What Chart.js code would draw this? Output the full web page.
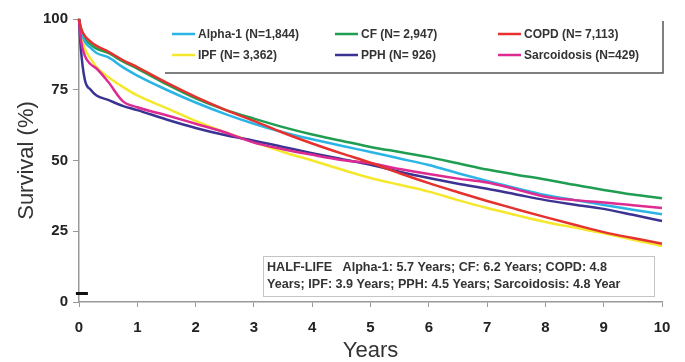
<!DOCTYPE html>
<html>
<head>
<meta charset="utf-8">
<script src="https://cdn.jsdelivr.net/npm/chart.js@4.4.1/dist/chart.umd.min.js"></script>
<style>
  html,body{margin:0;padding:0;background:#fff;}
  #wrap{width:685px;height:362px;position:relative;}
</style>
</head>
<body>
<div id="wrap"><canvas id="c" width="685" height="362"></canvas></div>
<script>
// ---- data ----
const years = [0, 0.03, 0.1, 0.2, 0.3, 0.5, 0.75, 1, 1.5, 2, 2.5, 3, 3.5, 4, 4.5, 5, 5.5, 6, 6.5, 7, 7.5, 8, 8.5, 9, 9.5, 10];
const alpha1 = [100, 96, 92, 89.8, 88, 86.5, 83, 80, 75, 70.5, 66.5, 63, 60, 57.5, 55.2, 53, 50.7, 48.4, 45.5, 42.8, 40.2, 37.8, 36, 34.3, 32.6, 31];
const cf     = [100, 97, 93, 91, 89.5, 88, 85, 82.5, 77, 72, 68, 64.8, 61.8, 59.2, 57, 54.8, 53, 51.2, 49, 46.8, 45, 43.3, 41.4, 39.6, 38, 36.7];
const copd   = [100, 97, 94, 92, 90.5, 88.5, 85.5, 83, 77.5, 72.5, 68, 64, 59.8, 56, 52.5, 49.2, 45.5, 42, 38.8, 35.7, 32.8, 30, 27.3, 24.7, 22.6, 20.6];
const ipf    = [100, 95, 89.5, 86, 83, 79.5, 76, 73, 68.5, 64, 60, 56.6, 53, 50, 46.8, 43.8, 41.4, 39, 36, 33.2, 30.7, 28.3, 26.3, 24.3, 22, 19.8];
const pph    = [100, 90, 78.5, 75, 73, 71.4, 69.3, 67.8, 64.5, 61.5, 59, 57, 54.8, 52.6, 50.5, 48.5, 46, 43.8, 41.8, 40, 38, 36, 34.4, 32.9, 30.8, 28.6];
const sarc   = [100, 93, 87, 84, 82.5, 77.8, 71, 68.8, 66, 63, 60, 56.3, 54, 52, 50.2, 49, 47, 45.2, 43.6, 42.2, 39.8, 37.2, 36, 35.2, 34.2, 33.2];
const seriesLabels = ["Alpha-1 (N=1,844)", "CF (N= 2,947)", "COPD (N= 7,113)", "IPF (N= 3,362)", "PPH (N= 926)", "Sarcoidosis (N=429)"];
const yTicks = [0, 25, 50, 75, 100];
const xTicks = [0, 1, 2, 3, 4, 5, 6, 7, 8, 9, 10];
const halfLifeLines = ["HALF-LIFE   Alpha-1: 5.7 Years; CF: 6.2 Years; COPD: 4.8", "Years; IPF: 3.9 Years; PPH: 4.5 Years; Sarcoidosis: 4.8 Year"];
const markX = [0.05];
const markY = [3];

const colors = ["#2bb4e6", "#1f9e52", "#e5322e", "#f5e82c", "#3b3393", "#de2a91"];
const valueSets = [alpha1, cf, copd, ipf, pph, sarc];

const datasets = valueSets.map((vals, i) => ({
  label: seriesLabels[i],
  data: years.map((x, k) => ({x: x, y: vals[k]})),
  borderColor: colors[i],
  backgroundColor: colors[i],
  borderWidth: 2.5,
  pointRadius: 0,
  cubicInterpolationMode: 'monotone',
  fill: false,
  clip: 6
}));
const order = [3, 1, 0, 4, 5, 2];
order.forEach((idx, k) => { datasets[idx].order = 6 - k; });

datasets.push({
  label: '_mark',
  data: markX.map((x, k) => ({x: x, y: markY[k]})),
  showLine: false,
  pointStyle: 'line',
  pointRadius: 6,
  pointBorderWidth: 3,
  borderColor: '#111',
  backgroundColor: '#111',
  clip: false,
  order: 0
});

const FONT = "'Liberation Sans', Arial, sans-serif";

const boxesPlugin = {
  id: 'boxes',
  afterDraw(chart) {
    const ctx = chart.ctx;
    ctx.save();
    ctx.strokeStyle = '#555';
    ctx.lineWidth = 1.5;
    ctx.beginPath();
    ctx.moveTo(165, 73); ctx.lineTo(663, 73); ctx.lineTo(663, 21);
    ctx.stroke();
    const cols = [172, 335, 498];
    const rows = [34, 55];
    ctx.font = "bold 12px " + FONT;
    ctx.textBaseline = 'middle';
    ctx.textAlign = 'left';
    for (let i = 0; i < 6; i++) {
      const cx = cols[i % 3], cy = rows[Math.floor(i / 3)];
      ctx.strokeStyle = colors[i];
      ctx.lineWidth = 2.5;
      ctx.beginPath(); ctx.moveTo(cx, cy); ctx.lineTo(cx + 23, cy); ctx.stroke();
      ctx.fillStyle = '#333';
      ctx.fillText(seriesLabels[i], cx + 26, cy + 0.5);
    }
    ctx.fillStyle = '#fff';
    ctx.fillRect(263, 256, 392, 40);
    ctx.strokeStyle = '#c4c4c4';
    ctx.lineWidth = 1;
    ctx.strokeRect(263.5, 256.5, 391, 40);
    ctx.fillStyle = '#333';
    ctx.font = "bold 12.6px " + FONT;
    ctx.fillText(halfLifeLines[0], 267, 268);
    ctx.fillText(halfLifeLines[1], 267, 285);
    ctx.restore();
  }
};

new Chart(document.getElementById('c'), {
  type: 'line',
  data: { datasets: datasets },
  plugins: [boxesPlugin],
  options: {
    responsive: false,
    animation: false,
    layout: { padding: { left: 0, right: 23, top: 19, bottom: 0 } },
    plugins: { legend: { display: false }, tooltip: { enabled: false } },
    scales: {
      x: {
        type: 'linear', min: 0, max: 10,
        afterFit(s) { s.height = 60; },
        afterBuildTicks(s) { s.ticks = xTicks.map(v => ({value: v})); },
        ticks: { font: { family: FONT, size: 15, weight: 'bold' }, color: '#222', padding: 12, maxRotation: 0 },
        grid: { drawOnChartArea: false, drawTicks: true, tickLength: 5, color: '#999', lineWidth: 1 },
        border: { color: '#999', width: 1.5 },
        title: { display: true, text: 'Years', font: { family: FONT, size: 22, lineHeight: 1 }, color: '#333', padding: { top: 0, bottom: 0 } }
      },
      y: {
        min: 0, max: 100,
        afterFit(s) { s.width = 79; },
        afterBuildTicks(s) { s.ticks = yTicks.map(v => ({value: v})); },
        ticks: { font: { family: FONT, size: 15, weight: 'bold' }, color: '#222', padding: 5 },
        grid: { drawOnChartArea: false, drawTicks: true, tickLength: 6, color: '#999', lineWidth: 1 },
        border: { color: '#999', width: 1.5 },
        title: { display: true, text: 'Survival (%)', font: { family: FONT, size: 22 }, color: '#333', padding: { top: 14, bottom: 0 } }
      }
    }
  }
});
</script>
</body>
</html>
